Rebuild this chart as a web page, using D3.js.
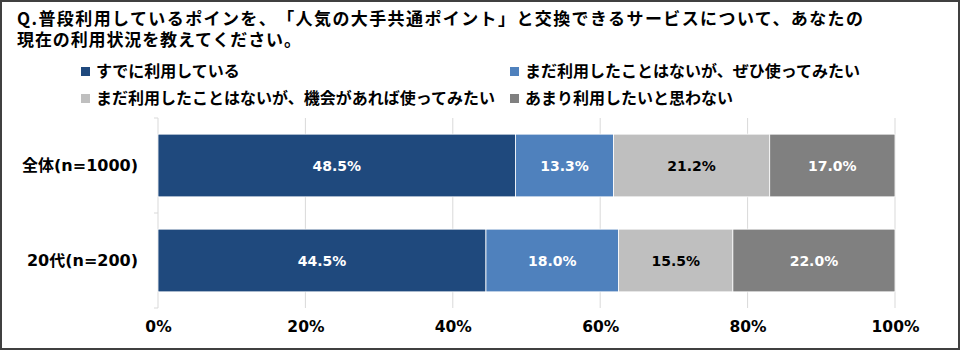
<!DOCTYPE html>
<html>
<head>
<meta charset="utf-8">
<script src="https://cdn.jsdelivr.net/npm/d3@7"></script>
<style>
  html, body { margin: 0; padding: 0; background: #fff; }
  svg { display: block; }
  text { font-family: "DejaVu Sans", "Noto Sans CJK JP", sans-serif; font-weight: bold; text-spacing-trim: space-all; }
</style>
</head>
<body>
<svg id="chart" width="960" height="350"></svg>
<script>
// Survey groups and answer shares (%)
const groups = ["全体(n=1000)", "20代(n=200)"];
const seriesNames = [
  "すでに利用している",
  "まだ利用したことはないが、ぜひ使ってみたい",
  "まだ利用したことはないが、機会があれば使ってみたい",
  "あまり利用したいと思わない"
];
const usingNow = [48.5, 44.5];
const wantToTry = [13.3, 18.0];
const ifChance = [21.2, 15.5];
const notInterested = [17.0, 22.0];
const tickValues = [0, 20, 40, 60, 80, 100];
const titleLines = [
  "Q.普段利用しているポインを、「人気の大手共通ポイント」と交換できるサービスについて、あなたの",
  "現在の利用状況を教えてください。"
];

const colors = ["#1f497d", "#4f81bd", "#bfbfbf", "#808080"];
const labelColors = ["#ffffff", "#ffffff", "#000000", "#ffffff"];

const svg = d3.select("#chart");
const W = 960, H = 350;

// outer frame
svg.append("rect")
  .attr("x", 1).attr("y", 1).attr("width", W - 2).attr("height", H - 2)
  .attr("fill", "#fff").attr("stroke", "#404040").attr("stroke-width", 2);

// title: one text block, one tspan per line
const title = svg.append("text")
  .attr("font-size", 17).attr("fill", "#000")
  .style("font-family", "\"Noto Sans CJK JP\", sans-serif");
title.selectAll("tspan").data(titleLines).join("tspan")
  .attr("x", 17).attr("y", (d, i) => 25 + i * 21)
  .attr("textLength", (d, i) => i === 0 ? 846 : 284)
  .attr("lengthAdjust", "spacing")
  .text(d => d);

// legend (2 columns x 2 rows)
const legendPos = [[81, 71], [510, 71], [81, 98], [510, 98]];
const legend = svg.append("g").selectAll("g").data(seriesNames).join("g")
  .attr("transform", (d, i) => `translate(${legendPos[i][0]},${legendPos[i][1]})`);
legend.append("rect")
  .attr("x", 0).attr("y", -4).attr("width", 9).attr("height", 9)
  .attr("fill", (d, i) => colors[i]);
legend.append("text")
  .attr("x", 15).attr("y", 0).attr("dy", "0.36em")
  .attr("font-size", 16).attr("fill", "#000")
  .style("font-family", "\"Noto Sans CJK JP\", sans-serif")
  .text(d => d);

// scales
const x = d3.scaleLinear().domain([0, 100]).range([158, 895]);
const y = d3.scaleBand().domain(groups).range([118, 308]).paddingInner(0.34).paddingOuter(0.17);

// gridlines
svg.append("g").selectAll("line").data(tickValues).join("line")
  .attr("x1", d => x(d)).attr("x2", d => x(d))
  .attr("y1", 118).attr("y2", 308)
  .attr("stroke", "#d9d9d9").attr("stroke-width", 1);

// category axis ticks (between bands)
const bandEdges = [118, (y(groups[0]) + y.bandwidth() + y(groups[1])) / 2, 308];
svg.append("g").selectAll("line").data(bandEdges).join("line")
  .attr("x1", x(0) - 4).attr("x2", x(0))
  .attr("y1", d => d).attr("y2", d => d)
  .attr("stroke", "#d9d9d9").attr("stroke-width", 1);

// stacked data
const rows = groups.map((g, i) => ({
  group: g,
  values: [usingNow[i], wantToTry[i], ifChance[i], notInterested[i]]
}));
const stackData = rows.map(r => {
  let acc = 0;
  return r.values.map((v, k) => {
    const seg = { group: r.group, k, v, x0: acc, x1: acc + v };
    acc += v;
    return seg;
  });
}).flat();

const bars = svg.append("g");
bars.selectAll("rect").data(stackData).join("rect")
  .attr("x", d => x(d.x0))
  .attr("y", d => y(d.group))
  .attr("width", d => x(d.x1) - x(d.x0))
  .attr("height", y.bandwidth())
  .attr("fill", d => colors[d.k])
  .attr("stroke", "#ffffff").attr("stroke-width", 0.8);

bars.selectAll("text").data(stackData).join("text")
  .attr("x", d => x((d.x0 + d.x1) / 2))
  .attr("y", d => y(d.group) + y.bandwidth() / 2)
  .attr("dy", "0.36em")
  .attr("text-anchor", "middle")
  .attr("font-size", 14)
  .attr("fill", d => labelColors[d.k])
  .text(d => d.v.toFixed(1) + "%");

// category labels
svg.append("g").selectAll("text").data(groups).join("text")
  .attr("x", 138)
  .attr("y", d => y(d) + y.bandwidth() / 2)
  .attr("dy", "0.36em")
  .attr("text-anchor", "end")
  .attr("font-size", 16).attr("fill", "#000")
  .text(d => d);

// x axis
const xAxis = d3.axisBottom(x).tickValues(tickValues).tickFormat(d => d + "%").tickSize(0).tickPadding(0);
const gx = svg.append("g").attr("transform", "translate(0,308)").call(xAxis);
gx.select(".domain").remove();
gx.selectAll("text")
  .attr("y", 24)
  .attr("dy", 0)
  .attr("font-size", 15.5)
  .attr("fill", "#000")
  .style("font-family", "\"DejaVu Sans\", sans-serif")
  .style("font-weight", "bold");
</script>
</body>
</html>
